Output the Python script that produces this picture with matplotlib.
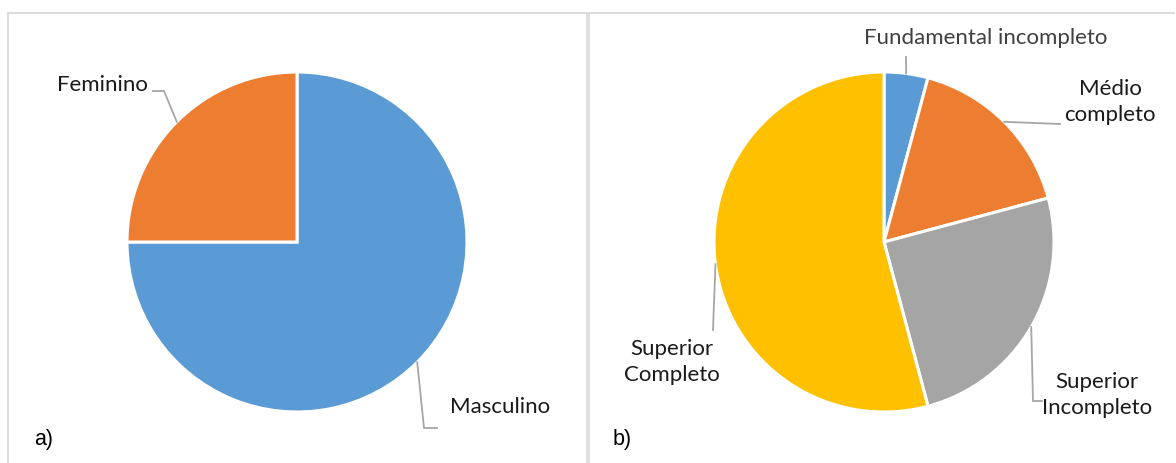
import matplotlib
matplotlib.use("Agg")
import matplotlib.pyplot as plt
import numpy as np

# Respondent profile: (a) gender, (b) education level
sexo_labels = ["Masculino", "Feminino"]
sexo_valores = [18, 6]

escolaridade_labels = ["Fundamental incompleto", "Médio\ncompleto",
                       "Superior\nIncompleto", "Superior\nCompleto"]
escolaridade_valores = [1, 4, 6, 13]

sexo_cores = ["#5B9BD5", "#ED7D31"]
esc_cores = ["#5B9BD5", "#ED7D31", "#A5A5A5", "#FFC000"]

W, H = 1176, 463
R = 170  # pie radius in pixels
FONT = "Lato"
LEADER = "#A6A6A6"

fig = plt.figure(figsize=(W / 100, H / 100), dpi=100)

# panel frames
frame = fig.add_axes([0, 0, 1, 1])
frame.set_xlim(0, W)
frame.set_ylim(H, 0)
frame.axis("off")
frame.plot([8, 1174], [13, 13], color="#D9D9D9", lw=1.3)
frame.plot([8, 8], [13, H], color="#D9D9D9", lw=1.3)
frame.add_patch(plt.Rectangle((585.5, 13), 4.5, H - 13, color="#E0E0E0", lw=0))
frame.text(34, 439, "a)", fontsize=15.5, family="Liberation Sans", va="center", ha="left")
frame.text(613, 439, "b)", fontsize=15.5, family="Liberation Sans", va="center", ha="left")


def pie_axes(cx, cy):
    ax = fig.add_axes([(cx - R) / W, (H - cy - R) / H, 2 * R / W, 2 * R / H])
    ax.set_xlim(-1, 1)
    ax.set_ylim(-1, 1)
    ax.set_aspect("equal")
    ax.axis("off")
    return ax


def to_data(cx, cy, px, py):
    return (px - cx) / R, (cy - py) / R


def draw_pie(cx, cy, valores, cores, labels, layout):
    ax = pie_axes(cx, cy)
    wedges, _ = ax.pie(valores, colors=cores, startangle=90, counterclock=False,
                       radius=1, frame=False,
                       wedgeprops=dict(edgecolor="white", linewidth=2.2))
    ax.set_xlim(-1, 1)
    ax.set_ylim(-1, 1)
    for w, lab, lay in zip(wedges, labels, layout):
        mid = np.deg2rad((w.theta1 + w.theta2) / 2)
        ax0, ay0 = np.cos(mid), np.sin(mid)
        pts = [(ax0, ay0)] + [to_data(cx, cy, *p) for p in lay["path"]]
        xs, ys = zip(*pts)
        ax.plot(xs, ys, color=LEADER, lw=1.3, clip_on=False, solid_joinstyle="miter")
        tx, ty = to_data(cx, cy, *lay["text"])
        ax.text(tx, ty, lab, ha=lay["ha"], va="center", fontsize=16, family=FONT,
                color=lay.get("color", "#1A1A1A"), linespacing=1.38,
                multialignment="center", clip_on=False)
    return ax


layout_a = [
    dict(text=(450, 407), ha="left", path=[(424, 428), (437, 428)]),
    dict(text=(148, 85), ha="right", path=[(164, 91), (153, 91)]),
]
draw_pie(297, 242, sexo_valores, sexo_cores, sexo_labels, layout_a)

layout_b = [
    dict(text=(986, 38), ha="center", path=[(906, 57)], color="#404040"),
    dict(text=(1110, 102), ha="center", path=[(1060, 124)]),
    dict(text=(1097, 395), ha="center", path=[(1033, 401), (1042, 401)]),
    dict(text=(672, 362), ha="center", path=[(713, 330)]),
]
draw_pie(884, 242, escolaridade_valores, esc_cores, escolaridade_labels, layout_b)

fig.savefig("out.png", dpi=100, facecolor="white")
